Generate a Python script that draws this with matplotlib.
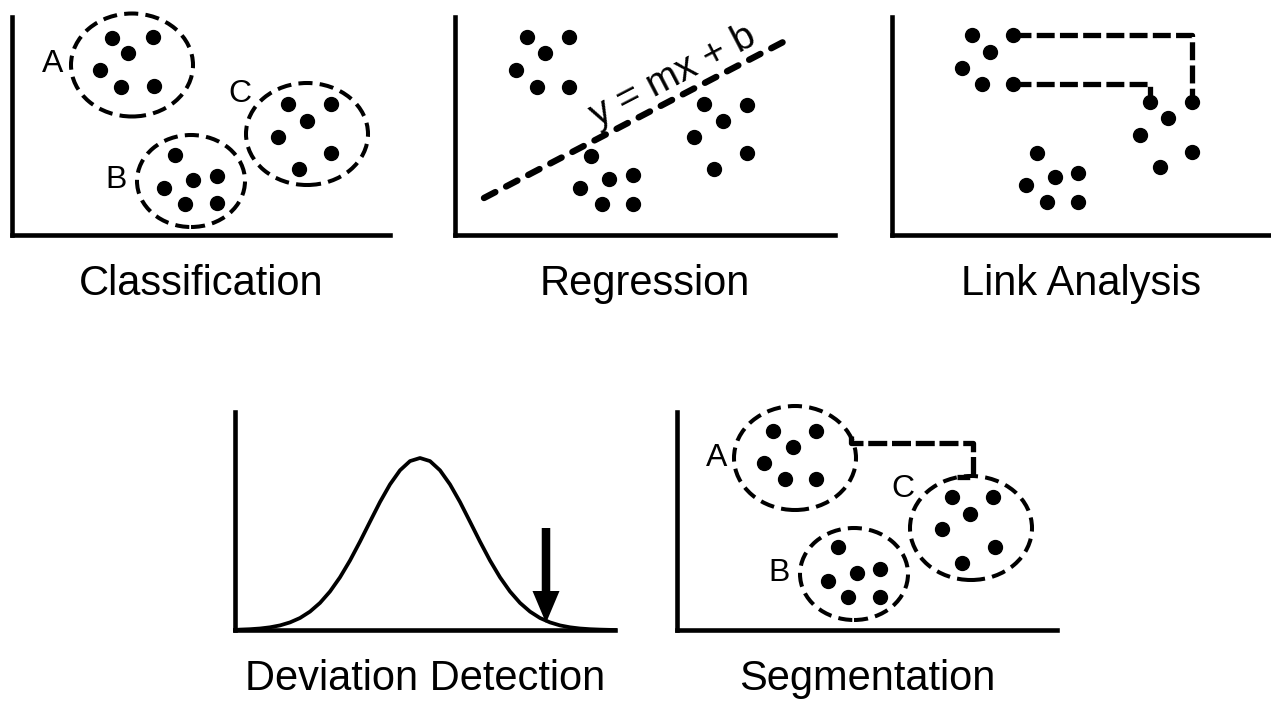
#!/usr/bin/env python3
"""Five small sketch panels: data mining task types."""

import matplotlib
matplotlib.use("Agg")
import matplotlib.pyplot as plt
from matplotlib.patches import Ellipse

plt.rcParams["font.family"] = ["Liberation Sans", "DejaVu Sans"]

FIG_W, FIG_H = 1271, 702

TITLES = ["Classification", "Regression", "Link Analysis",
          "Deviation Detection", "Segmentation"]
GROUP_NAMES = ["A", "B", "C"]

# --- Classification (units: 10 px from the axis corner) ---
CLS_A_X = [10.0, 14.1, 11.6, 8.8, 10.9, 14.2]
CLS_A_Y = [19.7, 19.8, 18.2, 16.5, 14.8, 14.9]
CLS_B_X = [16.3, 18.1, 20.5, 15.2, 17.3, 20.5]
CLS_B_Y = [8.0, 5.5, 5.9, 4.7, 3.1, 3.2]
CLS_C_X = [27.6, 31.9, 29.5, 26.6, 31.9, 28.7]
CLS_C_Y = [13.1, 13.1, 11.4, 9.8, 8.2, 6.6]

# --- Regression ---
REG_1_X = [7.2, 11.4, 9.0, 6.1, 8.2, 11.4]
REG_1_Y = [19.8, 19.8, 18.2, 16.5, 14.8, 14.8]
REG_2_X = [13.6, 12.5, 15.4, 17.8, 14.7, 17.8]
REG_2_Y = [7.9, 4.7, 5.6, 6.0, 3.1, 3.1]
REG_3_X = [24.9, 29.2, 26.8, 23.9, 29.2, 25.9]
REG_3_Y = [13.1, 13.0, 11.4, 9.8, 8.2, 6.6]
REG_LINE_X = [2.9, 33.4]
REG_LINE_Y = [3.7, 19.6]
REG_LABEL = "y = mx + b"

# --- Link analysis ---
LNK_1_X = [8.0, 12.1, 9.8, 7.0, 9.0, 12.1]
LNK_1_Y = [20.0, 20.0, 18.3, 16.7, 15.1, 15.1]
LNK_2_X = [14.5, 16.3, 18.6, 13.4, 15.5, 18.6]
LNK_2_Y = [8.2, 5.8, 6.2, 5.0, 3.3, 3.3]
LNK_3_X = [25.8, 30.0, 27.6, 24.8, 30.0, 26.8]
LNK_3_Y = [13.3, 13.3, 11.7, 10.0, 8.3, 6.8]
LINK_UPPER_X = [12.1, 30.0, 30.0]
LINK_UPPER_Y = [20.0, 20.0, 13.3]
LINK_LOWER_X = [12.1, 25.8, 25.8]
LINK_LOWER_Y = [15.1, 15.1, 13.3]

# --- Deviation detection (bell curve) ---
CURVE_X = [0.0, 0.5, 1.5, 2.5, 3.5, 4.5, 5.5, 6.5, 7.5, 8.5, 9.5, 10.5,
           11.5, 12.5, 13.5, 14.5, 15.5, 16.5, 17.5, 18.5, 19.5, 20.5,
           21.5, 22.5, 23.5, 24.5, 25.5, 26.5, 27.5, 28.5, 29.5, 30.5,
           31.5, 32.5, 33.5, 34.5, 35.5, 36.5, 38.0]
CURVE_Y = [0.0, 0.04, 0.08, 0.15, 0.27, 0.46, 0.76, 1.20, 1.84, 2.71, 3.85,
           5.27, 6.95, 8.84, 10.83, 12.80, 14.56, 15.97, 16.89, 17.20,
           16.89, 15.97, 14.56, 12.80, 10.83, 8.84, 6.95, 5.27, 3.85, 2.71,
           1.84, 1.20, 0.76, 0.46, 0.27, 0.15, 0.08, 0.04, 0.0]
OUTLIER_X = 31.1
OUTLIER_ARROW_Y = [10.2, 0.7]

# --- Segmentation ---
SEG_A_X = [9.6, 13.9, 11.6, 8.7, 10.8, 13.9]
SEG_A_Y = [19.9, 19.9, 18.3, 16.7, 15.1, 15.1]
SEG_B_X = [16.1, 18.0, 20.3, 15.1, 17.1, 20.3]
SEG_B_Y = [8.3, 5.7, 6.1, 4.9, 3.3, 3.3]
SEG_C_X = [27.5, 31.6, 29.3, 26.5, 31.8, 28.5]
SEG_C_Y = [13.3, 13.3, 11.6, 10.1, 8.3, 6.7]
SEG_LINK_X = [17.4, 17.4, 29.6, 29.6, 28.0]
SEG_LINK_Y = [19.4, 18.7, 18.7, 15.3, 15.3]


def panel(fig, left, bottom, width, height, title):
    ax = fig.add_axes([left / FIG_W, (FIG_H - bottom) / FIG_H,
                       width / FIG_W, height / FIG_H])
    ax.set_xlim(0, width / 10)
    ax.set_ylim(0, height / 10)
    ax.patch.set_alpha(0)
    for s in ("top", "right"):
        ax.spines[s].set_visible(False)
    for s in ("left", "bottom"):
        ax.spines[s].set_linewidth(3.3)
        ax.spines[s].set_capstyle("projecting")
    ax.set_xticks([])
    ax.set_yticks([])
    ax.text(width / 20, -6.0, title, ha="center", va="baseline", fontsize=30)
    return ax


def dots(ax, xs, ys):
    ax.plot(xs, ys, "o", color="black", markersize=10, clip_on=False)


def ring(ax, cx, cy, w, h):
    ax.add_patch(Ellipse((cx, cy), w, h, fill=False, edgecolor="black",
                         linewidth=2.9, linestyle=(0, (3.5, 1.8)), clip_on=False))


def label(ax, x, y, s):
    ax.text(x, y, s, ha="center", va="center", fontsize=23)


def main():
    fig = plt.figure(figsize=(FIG_W / 100, FIG_H / 100), dpi=100)
    fig.patch.set_facecolor("white")

    # Classification
    ax = panel(fig, 12, 235, 378, 218, TITLES[0])
    for xs, ys in ((CLS_A_X, CLS_A_Y), (CLS_B_X, CLS_B_Y), (CLS_C_X, CLS_C_Y)):
        dots(ax, xs, ys)
    ring(ax, 12.0, 17.0, 12.2, 10.3)
    ring(ax, 17.9, 5.4, 10.8, 9.2)
    ring(ax, 29.5, 10.1, 12.2, 10.2)
    label(ax, 4.05, 17.1, GROUP_NAMES[0])
    label(ax, 10.4, 5.5, GROUP_NAMES[1])
    label(ax, 22.75, 14.1, GROUP_NAMES[2])

    # Regression
    ax = panel(fig, 455, 235, 380, 218, TITLES[1])
    for xs, ys in ((REG_1_X, REG_1_Y), (REG_2_X, REG_2_Y), (REG_3_X, REG_3_Y)):
        dots(ax, xs, ys)
    ax.plot(REG_LINE_X, REG_LINE_Y, color="black", linewidth=4.6,
            linestyle=(0, (2.0, 1.9)), dash_capstyle="round",
            solid_capstyle="round", clip_on=False)
    ax.text(21.8, 15.9, REG_LABEL, ha="center", va="center", fontsize=28,
            rotation=27.5, rotation_mode="anchor")

    # Link analysis
    ax = panel(fig, 892, 235, 378, 218, TITLES[2])
    for xs, ys in ((LNK_1_X, LNK_1_Y), (LNK_2_X, LNK_2_Y), (LNK_3_X, LNK_3_Y)):
        dots(ax, xs, ys)
    for xs, ys in ((LINK_UPPER_X, LINK_UPPER_Y), (LINK_LOWER_X, LINK_LOWER_Y)):
        ax.plot(xs, ys, color="black", linewidth=3.8, linestyle=(0, (3.4, 1.0)),
                clip_on=False)

    # Deviation detection
    ax = panel(fig, 235, 630, 380, 218, TITLES[3])
    ax.plot(CURVE_X, CURVE_Y, color="black", linewidth=2.7, clip_on=False)
    ax.arrow(OUTLIER_X, OUTLIER_ARROW_Y[0], 0, OUTLIER_ARROW_Y[1] - OUTLIER_ARROW_Y[0],
             width=0.85, head_width=2.7, head_length=3.2,
             length_includes_head=True, color="black", linewidth=0)

    # Segmentation
    ax = panel(fig, 677, 630, 380, 218, TITLES[4])
    for xs, ys in ((SEG_A_X, SEG_A_Y), (SEG_B_X, SEG_B_Y), (SEG_C_X, SEG_C_Y)):
        dots(ax, xs, ys)
    ring(ax, 11.8, 17.2, 12.2, 10.4)
    ring(ax, 17.7, 5.6, 10.8, 9.2)
    ring(ax, 29.4, 10.2, 12.2, 10.4)
    ax.plot(SEG_LINK_X, SEG_LINK_Y, color="black", linewidth=3.8,
            linestyle=(0, (3.6, 0.9)), clip_on=False)
    label(ax, 3.95, 17.2, GROUP_NAMES[0])
    label(ax, 10.2, 5.7, GROUP_NAMES[1])
    label(ax, 22.55, 14.1, GROUP_NAMES[2])

    fig.savefig("out.png", dpi=100, facecolor="white")
    plt.close(fig)


if __name__ == "__main__":
    main()
